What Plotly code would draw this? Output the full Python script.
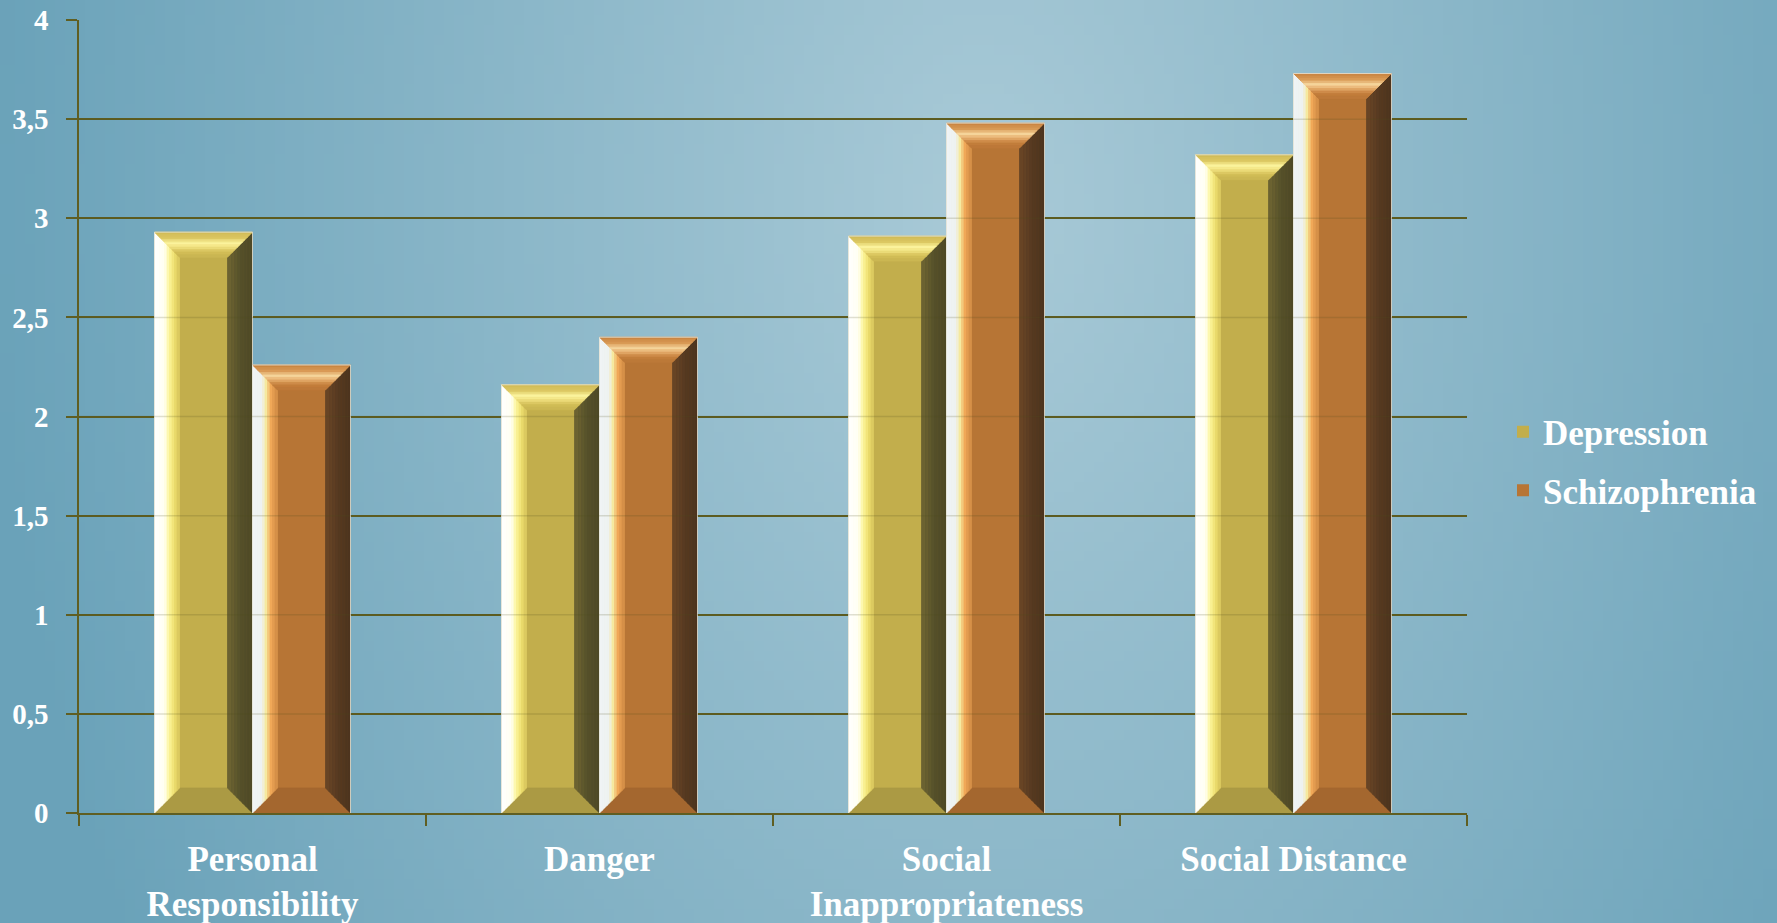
import base64
import struct
import zlib

import numpy as np
import plotly.graph_objects as go

# ---- data -------------------------------------------------------------
categories = ["Personal<br>Responsibility", "Danger",
              "Social<br>Inappropriateness", "Social Distance"]
depression = [2.93, 2.16, 2.91, 3.32]
schizophrenia = [2.26, 2.40, 3.48, 3.73]
y_ticks = [0, 0.5, 1, 1.5, 2, 2.5, 3, 3.5, 4]

# ---- geometry / style -------------------------------------------------
FIG_W, FIG_H = 1777, 923
M_L, M_R, M_T, M_B = 79, 310, 20, 110
PLOT_W = FIG_W - M_L - M_R
PLOT_H = FIG_H - M_T - M_B
PX_PER_X = PLOT_W / 4.0          # x range is [-0.5, 3.5]
PX_PER_Y = PLOT_H / 4.0          # y range is [0, 4]

BAR_W = 98 / PX_PER_X
BEV_X = 25 / PX_PER_X
BEV_Y = 25 / PX_PER_Y

OLIVE = "#5f5e22"
FONT = "Liberation Serif"

styles = {
    "Depression": dict(
        front="#c2ae4c",
        bottom="#ab9a44",
        left=[(0, "#ffffff"), (0.42, "#fffff2"), (0.58, "#fdf7a0"),
              (0.8, "#efe070"), (1, "#d6c35a")],
        right=[(0, "#4d4825"), (0.5, "#55502a"), (1, "#6e6532")],
        top=[(0, "#cfb955"), (0.25, "#dcc862"), (0.45, "#fbf39c"),
             (0.6, "#f2e482"), (0.8, "#d4bf58"), (1, "#c8b451")],
    ),
    "Schizophrenia": dict(
        front="#b77535",
        bottom="#a4672f",
        left=[(0, "#f0f4f6"), (0.4, "#eef2f0"), (0.55, "#f6eaa0"),
              (0.75, "#f0a858"), (1, "#d08a44")],
        right=[(0, "#4c331d"), (0.5, "#553a21"), (1, "#6a4526")],
        top=[(0, "#c7813f"), (0.25, "#d99a55"), (0.45, "#f5d49a"),
             (0.6, "#e8b070"), (0.8, "#c57f3c"), (1, "#ba7738")],
    ),
}


def hex_rgb(h):
    h = h.lstrip("#")
    return np.array([int(h[i:i + 2], 16) for i in (0, 2, 4)], dtype=float)


def stop_color(stops, t):
    for (p0, c0), (p1, c1) in zip(stops[:-1], stops[1:]):
        if t <= p1:
            f = 0 if p1 == p0 else (t - p0) / (p1 - p0)
            c = hex_rgb(c0) * (1 - f) + hex_rgb(c1) * f
            return "rgb(%d,%d,%d)" % tuple(np.round(c))
    return stops[-1][1]


# ---- background: soft radial gradient rendered to a small PNG ----------
def gradient_png(w, h):
    yy, xx = np.mgrid[0:h, 0:w]
    cx, cy = 0.55 * w, 0.22 * h
    rx, ry = 0.56 * w, 1.6 * h
    d = np.clip(np.sqrt(((xx - cx) / rx) ** 2 + ((yy - cy) / ry) ** 2), 0, 1)
    c_in = hex_rgb("#a9cad7")
    c_out = hex_rgb("#6aa2b9")
    img = c_in[None, None, :] * (1 - d[..., None]) + c_out[None, None, :] * d[..., None]
    img = np.round(img).astype(np.uint8)
    raw = b"".join(b"\x00" + img[r].tobytes() for r in range(h))

    def chunk(tag, data):
        return (struct.pack(">I", len(data)) + tag + data +
                struct.pack(">I", zlib.crc32(tag + data) & 0xFFFFFFFF))

    png = (b"\x89PNG\r\n\x1a\n" +
           chunk(b"IHDR", struct.pack(">IIBBBBB", w, h, 8, 2, 0, 0, 0)) +
           chunk(b"IDAT", zlib.compress(raw, 9)) +
           chunk(b"IEND", b""))
    return "data:image/png;base64," + base64.b64encode(png).decode()


# ---- bevelled bar faces -------------------------------------------------
def poly_trace(polys, color):
    xs, ys = [], []
    for px, py in polys:
        xs += list(px) + [px[0], None]
        ys += list(py) + [py[0], None]
    return go.Scatter(x=xs, y=ys, mode="lines", fill="toself",
                      fillcolor=color, line=dict(color=color, width=0.8),
                      hoverinfo="skip", showlegend=False)


def bevel_traces(values, offset, st, n_left=10, n_right=8, n_top=10):
    out = []
    bars = [(i + offset, i + offset + BAR_W, v) for i, v in enumerate(values)]
    # bottom face
    out.append(poly_trace(
        [([x0, x1, x1 - BEV_X, x0 + BEV_X], [0, 0, BEV_Y, BEV_Y])
         for x0, x1, v in bars], st["bottom"]))
    # left face, outer edge -> inner edge
    for j in range(n_left):
        a, b = j / n_left, (j + 1) / n_left
        polys = [([x0 + a * BEV_X, x0 + a * BEV_X, x0 + b * BEV_X, x0 + b * BEV_X],
                  [a * BEV_Y, v - a * BEV_Y, v - b * BEV_Y, b * BEV_Y])
                 for x0, x1, v in bars]
        out.append(poly_trace(polys, stop_color(st["left"], (a + b) / 2)))
    # right face, outer edge -> inner edge
    for j in range(n_right):
        a, b = j / n_right, (j + 1) / n_right
        polys = [([x1 - a * BEV_X, x1 - a * BEV_X, x1 - b * BEV_X, x1 - b * BEV_X],
                  [a * BEV_Y, v - a * BEV_Y, v - b * BEV_Y, b * BEV_Y])
                 for x0, x1, v in bars]
        out.append(poly_trace(polys, stop_color(st["right"], (a + b) / 2)))
    # top face, top edge -> inner edge
    for j in range(n_top):
        a, b = j / n_top, (j + 1) / n_top
        polys = [([x0 + a * BEV_X, x1 - a * BEV_X, x1 - b * BEV_X, x0 + b * BEV_X],
                  [v - a * BEV_Y, v - a * BEV_Y, v - b * BEV_Y, v - b * BEV_Y])
                 for x0, x1, v in bars]
        out.append(poly_trace(polys, stop_color(st["top"], (a + b) / 2)))
    # thin light rim
    xs, ys = [], []
    for x0, x1, v in bars:
        xs += [x0, x0, x1, x1, None]
        ys += [0, v, v, 0, None]
    out.append(go.Scatter(x=xs, y=ys, mode="lines",
                          line=dict(color="rgba(228,228,215,0.85)", width=1),
                          hoverinfo="skip", showlegend=False))
    return out


fig = go.Figure()
series = [("Depression", depression, -BAR_W), ("Schizophrenia", schizophrenia, 0.0)]
x_pos = list(range(len(categories)))

for name, vals, off in series:
    st = styles[name]
    fig.add_trace(go.Bar(
        name=name, x=x_pos, y=vals, offset=off, width=BAR_W,
        marker=dict(color=st["front"], line=dict(width=0)),
        legendgroup=name,
    ))
for name, vals, off in series:
    for tr in bevel_traces(vals, off, styles[name]):
        fig.add_trace(tr)

# faint gridlines showing through the bars
for yv in y_ticks[1:-1]:
    fig.add_shape(type="line", xref="x", yref="y", x0=-0.5, x1=3.5, y0=yv, y1=yv,
                  line=dict(color="rgba(80,78,25,0.18)", width=1.5), layer="above")

fig.add_layout_image(dict(
    source=gradient_png(178, 93), xref="paper", yref="paper",
    x=-M_L / PLOT_W, y=1 + M_T / PLOT_H,
    sizex=FIG_W / PLOT_W, sizey=FIG_H / PLOT_H,
    xanchor="left", yanchor="top", sizing="stretch", layer="below",
))

fig.update_layout(
    width=FIG_W, height=FIG_H,
    margin=dict(l=M_L, r=M_R, t=M_T, b=M_B, pad=0, autoexpand=False),
    paper_bgcolor="#6ea3ba", plot_bgcolor="rgba(0,0,0,0)",
    separators=",.",
    barmode="overlay",
    font=dict(family=FONT, color="white", size=35, weight="bold"),
    legend=dict(x=(1503 - M_L) / PLOT_W, xanchor="left",
                y=(M_T + PLOT_H - 461) / PLOT_H, yanchor="middle",
                bgcolor="rgba(0,0,0,0)", tracegroupgap=10,
                font=dict(family=FONT, color="white", size=35, weight="bold")),
    xaxis=dict(
        range=[-0.5, 3.5], tickmode="array", tickvals=x_pos, ticktext=categories,
        ticks="", showgrid=False, zeroline=False, automargin=False,
        showline=True, linecolor=OLIVE, linewidth=1.5,
        minor=dict(tickmode="array", tickvals=[-0.5, 0.5, 1.5, 2.5, 3.5],
                   ticks="outside", ticklen=11, tickwidth=1.5, tickcolor=OLIVE,
                   showgrid=False),
        ticklabelstandoff=14,
        tickfont=dict(family=FONT, color="white", size=35, weight="bold"),
    ),
    yaxis=dict(
        range=[0, 4], tickmode="array", tickvals=y_ticks,
        ticks="outside", ticklen=11, tickwidth=1.5, tickcolor=OLIVE,
        showgrid=True, gridcolor=OLIVE, gridwidth=1.5, automargin=False,
        showline=True, linecolor=OLIVE, linewidth=1.5, zeroline=False,
        ticklabelstandoff=12,
        tickfont=dict(family=FONT, color="white", size=29, weight="bold"),
    ),
)

fig.write_html("out.html")
